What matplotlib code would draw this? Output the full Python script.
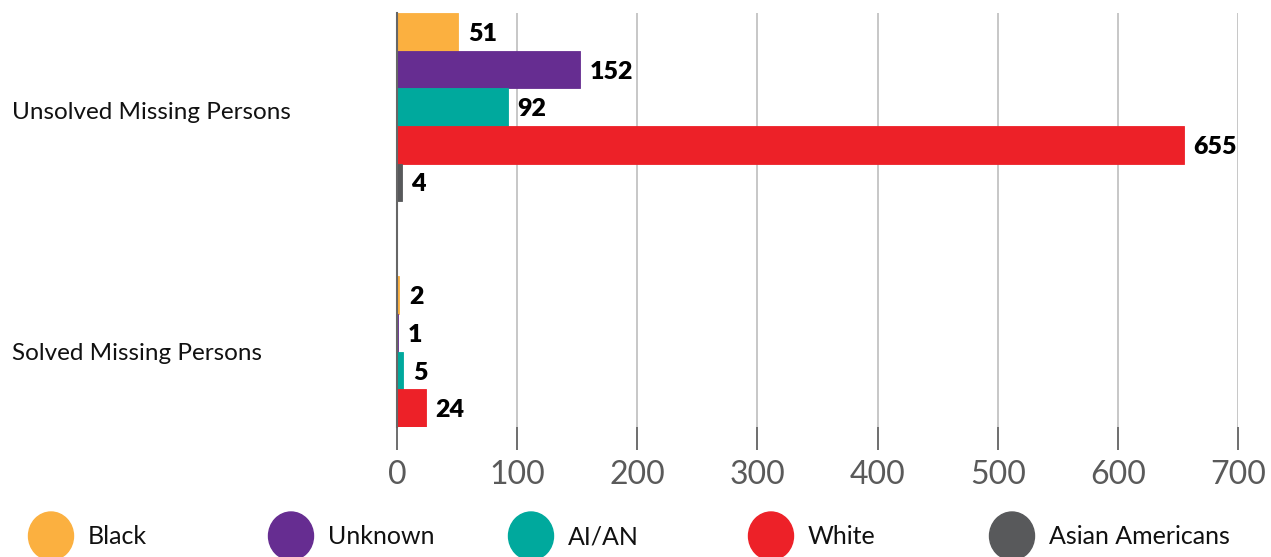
import matplotlib.pyplot as plt
from matplotlib.patches import Ellipse
import numpy as np

plt.rcParams['font.family'] = ['Lato', 'DejaVu Sans']

categories = ["Unsolved Missing Persons", "Solved Missing Persons"]
series = ["Black", "Unknown", "AI/AN", "White", "Asian Americans"]
colors = ["#FBB040", "#662D91", "#00A99D", "#ED2128", "#58595B"]
unsolved = [51, 152, 92, 655, 4]
solved = [2, 1, 5, 24, 0]
xticks = [0, 100, 200, 300, 400, 500, 600, 700]

W, H = 1271, 557
fig = plt.figure(figsize=(W / 100, H / 100), dpi=100)
ax = fig.add_axes([397 / W, 1 - 427 / H, (1238 - 397) / W, (427 - 13) / H])

# bar slots: unsolved group 0..4, solved group 7..11
group_start = [0, 7]
for g, vals in enumerate([unsolved, solved]):
    for i, v in enumerate(vals):
        y = group_start[g] + i
        ax.barh(y, v, height=1.0, color=colors[i], edgecolor=colors[i],
                linewidth=0.6 if v > 0 else 0)
        if v > 0:
            ax.annotate(str(v), (v, y), xytext=(7, -1.5), textcoords="offset points",
                        ha="left", va="center", fontsize=18, fontweight="heavy",
                        color="black")

ax.set_xlim(0, 700)
ax.set_ylim(10.5, -0.5)
ax.set_xticks(xticks)
ax.set_xticklabels([str(t) for t in xticks])
ax.set_yticks([2.1, 8.5])
ax.set_yticklabels(categories)
for lab in ax.get_yticklabels():
    lab.set_horizontalalignment("left")
ax.tick_params(axis="y", length=0, pad=(397 - 12) * 0.72, labelsize=17.5, labelcolor="#111111")
ax.tick_params(axis="x", length=16.5, width=1.2, color="#555555", pad=7,
               labelsize=23, labelcolor="#5a5a5a")

ax.grid(axis="x", color="#bdbdbd", linewidth=1.2)
ax.set_axisbelow(True)
for s in ["top", "right", "bottom"]:
    ax.spines[s].set_visible(False)
ax.spines["left"].set_color("#666666")
ax.spines["left"].set_linewidth(1.5)

# legend row
leg_x = [51, 291, 531, 771, 1012]
leg_y = 536
for i, name in enumerate(series):
    e = Ellipse((leg_x[i] / W, 1 - leg_y / H), 45 / W, 48 / H,
                transform=fig.transFigure, color=colors[i], clip_on=False)
    fig.add_artist(e)
    fig.text((leg_x[i] + 37) / W, 1 - 537 / H, name, ha="left", va="center",
             fontsize=18, color="#111111")

fig.savefig("out.png", dpi=100)
